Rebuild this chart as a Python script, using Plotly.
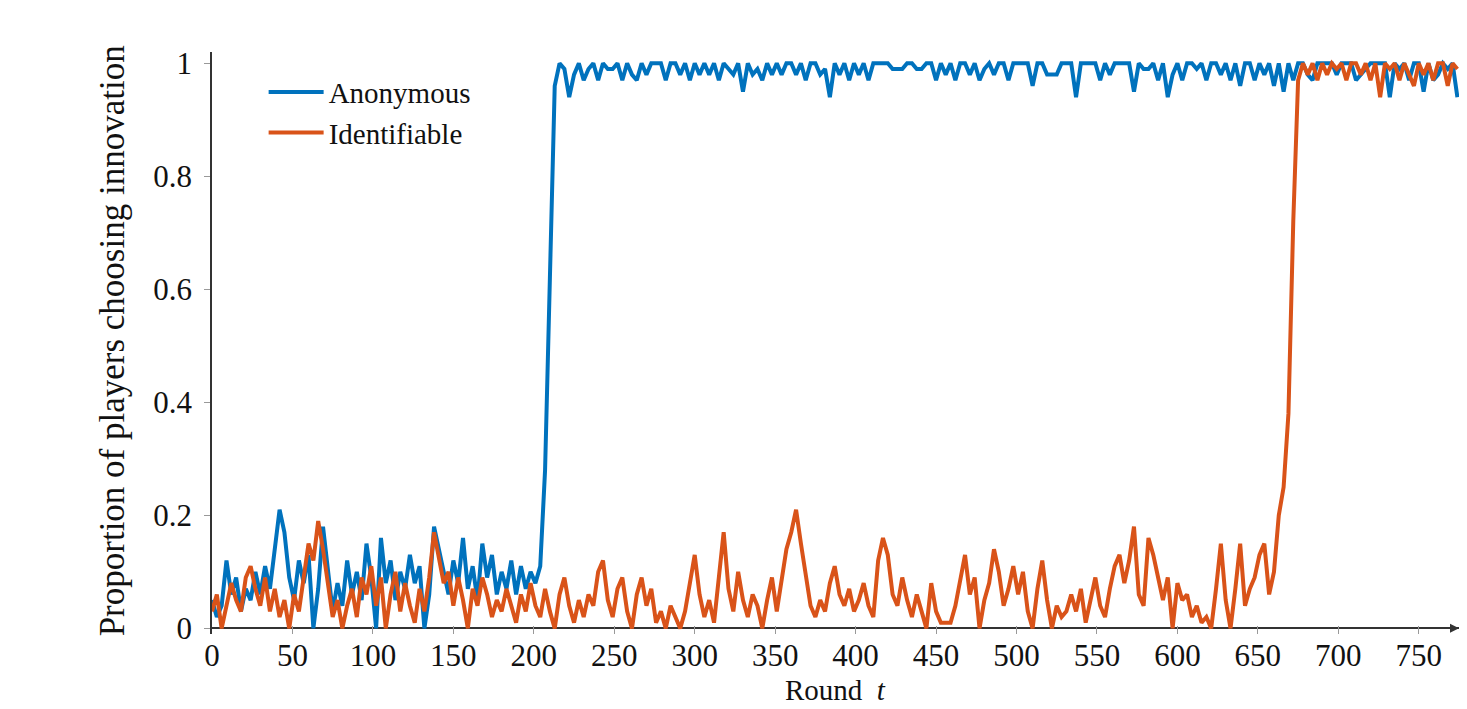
import plotly.graph_objects as go

rounds = list(range(0, 775, 3))

anonymous = [
    # 0-27
    0.05, 0.02, 0.04, 0.12, 0.06, 0.09, 0.03, 0.07, 0.05, 0.10,
    # 30-57
    0.06, 0.11, 0.07, 0.14, 0.21, 0.17, 0.09, 0.05, 0.12, 0.08,
    # 60-87
    0.13, 0.00, 0.07, 0.18, 0.10, 0.03, 0.08, 0.04, 0.12, 0.06,
    # 90-117
    0.10, 0.05, 0.15, 0.09, 0.00, 0.16, 0.08, 0.12, 0.05, 0.10,
    # 120-147
    0.07, 0.13, 0.08, 0.11, 0.00, 0.06, 0.18, 0.14, 0.10, 0.06,
    # 150-177
    0.12, 0.08, 0.16, 0.07, 0.11, 0.05, 0.15, 0.09, 0.13, 0.06,
    # 180-204
    0.10, 0.07, 0.12, 0.06, 0.11, 0.07, 0.10, 0.08, 0.11,
    # 207-213 take-off
    0.28, 0.62, 0.96,
    # 216-243
    1.00, 0.99, 0.94, 0.98, 1.00, 0.97, 0.99, 1.00, 0.97, 1.00,
    # 246-273
    0.99, 0.99, 1.00, 0.97, 1.00, 0.98, 0.97, 1.00, 0.98, 1.00,
    # 276-303
    1.00, 1.00, 0.97, 1.00, 1.00, 0.98, 1.00, 0.97, 1.00, 0.98,
    # 306-333
    1.00, 0.98, 1.00, 0.97, 1.00, 0.99, 0.98, 1.00, 0.95, 1.00,
    # 336-363
    0.98, 0.99, 0.97, 1.00, 0.98, 1.00, 0.98, 1.00, 1.00, 0.98,
    # 366-393
    1.00, 0.97, 1.00, 1.00, 0.98, 0.99, 0.94, 1.00, 0.98, 1.00,
    # 396-423
    0.97, 1.00, 0.98, 1.00, 0.97, 1.00, 1.00, 1.00, 1.00, 0.99,
    # 426-453
    0.99, 0.99, 1.00, 1.00, 0.99, 0.99, 1.00, 1.00, 0.97, 1.00,
    # 456-483
    0.98, 1.00, 0.97, 1.00, 1.00, 0.98, 1.00, 0.97, 0.99, 1.00,
    # 486-513
    0.98, 1.00, 1.00, 0.97, 1.00, 1.00, 1.00, 1.00, 0.96, 1.00,
    # 516-543
    1.00, 0.98, 0.98, 0.98, 1.00, 1.00, 1.00, 0.94, 1.00, 1.00,
    # 546-573
    1.00, 1.00, 0.97, 1.00, 0.98, 1.00, 1.00, 1.00, 1.00, 0.95,
    # 576-603
    1.00, 0.99, 0.99, 1.00, 0.97, 1.00, 0.94, 0.98, 1.00, 0.97,
    # 606-633
    1.00, 1.00, 0.99, 1.00, 0.97, 1.00, 1.00, 0.98, 1.00, 0.97,
    # 636-663
    1.00, 0.96, 1.00, 1.00, 0.97, 1.00, 0.98, 1.00, 0.96, 1.00,
    # 666-693
    0.95, 1.00, 0.97, 1.00, 1.00, 0.98, 0.97, 1.00, 1.00, 1.00,
    # 696-723
    1.00, 0.98, 1.00, 1.00, 1.00, 0.97, 0.98, 0.99, 1.00, 1.00,
    # 726-753
    1.00, 1.00, 0.94, 1.00, 0.99, 1.00, 0.97, 1.00, 1.00, 0.95,
    # 756-774
    1.00, 0.97, 0.98, 1.00, 0.99, 1.00, 0.94,
]

identifiable = [
    # 0-27
    0.03, 0.06, 0.00, 0.04, 0.08, 0.05, 0.03, 0.09, 0.11, 0.07,
    # 30-57
    0.04, 0.09, 0.03, 0.07, 0.02, 0.05, 0.00, 0.06, 0.03, 0.09,
    # 60-87
    0.15, 0.12, 0.19, 0.14, 0.08, 0.02, 0.05, 0.00, 0.04, 0.07,
    # 90-117
    0.02, 0.09, 0.06, 0.11, 0.04, 0.09, 0.00, 0.06, 0.10, 0.03,
    # 120-147
    0.08, 0.04, 0.01, 0.07, 0.03, 0.09, 0.17, 0.12, 0.08, 0.10,
    # 150-177
    0.04, 0.09, 0.05, 0.00, 0.07, 0.04, 0.09, 0.06, 0.02, 0.05,
    # 180-204
    0.03, 0.07, 0.04, 0.01, 0.06, 0.03, 0.08, 0.04, 0.02,
    # 207-234
    0.07, 0.03, 0.00, 0.06, 0.09, 0.04, 0.01, 0.05, 0.02, 0.06,
    # 237-264
    0.04, 0.10, 0.12, 0.05, 0.02, 0.07, 0.09, 0.03, 0.00, 0.06,
    # 267-294
    0.09, 0.04, 0.07, 0.01, 0.03, 0.00, 0.04, 0.02, 0.00, 0.03,
    # 297-324
    0.08, 0.13, 0.06, 0.02, 0.05, 0.01, 0.09, 0.17, 0.07, 0.03,
    # 327-354
    0.10, 0.05, 0.02, 0.06, 0.04, 0.00, 0.05, 0.09, 0.03, 0.08,
    # 357-384
    0.14, 0.17, 0.21, 0.15, 0.09, 0.04, 0.02, 0.05, 0.03, 0.08,
    # 387-414
    0.11, 0.06, 0.04, 0.07, 0.03, 0.05, 0.08, 0.04, 0.02, 0.12,
    # 417-444
    0.16, 0.13, 0.06, 0.04, 0.09, 0.05, 0.02, 0.06, 0.03, 0.00,
    # 447-474
    0.08, 0.03, 0.01, 0.01, 0.01, 0.04, 0.09, 0.13, 0.06, 0.09,
    # 477-504
    0.00, 0.05, 0.08, 0.14, 0.10, 0.04, 0.07, 0.11, 0.06, 0.10,
    # 507-534
    0.03, 0.00, 0.07, 0.12, 0.05, 0.00, 0.04, 0.02, 0.03, 0.06,
    # 537-564
    0.03, 0.07, 0.01, 0.05, 0.09, 0.04, 0.02, 0.07, 0.11, 0.13,
    # 567-594
    0.08, 0.12, 0.18, 0.06, 0.04, 0.16, 0.13, 0.09, 0.05, 0.09,
    # 597-624
    0.00, 0.08, 0.05, 0.06, 0.02, 0.04, 0.01, 0.02, 0.00, 0.07,
    # 627-654
    0.15, 0.05, 0.00, 0.07, 0.15, 0.04, 0.07, 0.09, 0.13, 0.15,
    # 657-663
    0.06, 0.10, 0.20,
    # 666-678 take-off
    0.25, 0.38, 0.72, 0.97, 1.00,
    # 681-708
    0.98, 1.00, 0.97, 1.00, 0.98, 1.00, 0.99, 1.00, 0.97, 1.00,
    # 711-738
    1.00, 0.98, 1.00, 0.97, 1.00, 0.94, 1.00, 0.99, 1.00, 0.97,
    # 741-768
    1.00, 0.98, 0.96, 1.00, 0.98, 1.00, 0.97, 1.00, 1.00, 0.96,
    # 771-774
    1.00, 0.99,
]

x_ticks = list(range(0, 751, 50))
y_ticks = [0, 0.2, 0.4, 0.6, 0.8, 1]
y_tick_text = ["0", "0.2", "0.4", "0.6", "0.8", "1"]

BLUE = "#0072BD"
ORANGE = "#D95319"
FONT = "Liberation Serif"

fig = go.Figure()
fig.add_trace(go.Scatter(x=rounds[:len(anonymous)], y=anonymous, mode="lines",
                         name="Anonymous", line=dict(color=BLUE, width=4)))
fig.add_trace(go.Scatter(x=rounds[:len(identifiable)], y=identifiable, mode="lines",
                         name="Identifiable", line=dict(color=ORANGE, width=4)))

fig.update_layout(
    width=1467, height=709,
    margin=dict(l=204, r=16, t=44, b=83),
    paper_bgcolor="white", plot_bgcolor="white",
    font=dict(family=FONT, size=30, color="#111"),
    showlegend=True,
    legend=dict(x=0.0414, y=0.975, xanchor="left", yanchor="top",
                bgcolor="rgba(255,255,255,0)", font=dict(size=29, family=FONT),
                itemwidth=55, tracegroupgap=0),
    xaxis=dict(range=[0, 775], tickvals=x_ticks, ticks="inside", ticklen=8,
               tickcolor="#999", showgrid=False, zeroline=False, showline=False,
               automargin=False, tickfont=dict(size=31, family=FONT)),
    yaxis=dict(range=[-0.01, 1.02], tickvals=y_ticks, ticktext=y_tick_text,
               ticks="outside", ticklen=6, tickcolor="#999", showgrid=False,
               zeroline=True, zerolinecolor="#333", zerolinewidth=1.5,
               showline=True, linecolor="#333", linewidth=1.5,
               automargin=False, ticklabelstandoff=6,
               tickfont=dict(size=31, family=FONT)),
)

fig.add_annotation(x=775, y=0, ax=765, ay=0, xref="x", yref="y", axref="x", ayref="y",
                   showarrow=True, arrowhead=2, arrowsize=1.2, arrowwidth=1.5,
                   arrowcolor="#333", text="")

# Axis titles
fig.add_annotation(text="Proportion of players choosing innovation", textangle=-90,
                   xref="paper", yref="paper", x=-0.0802, y=0.5045,
                   xanchor="center", yanchor="middle", showarrow=False,
                   font=dict(size=35, family=FONT, color="#111"))
fig.add_annotation(text="Round  <i>t</i>", xref="paper", yref="paper",
                   x=0.5, y=-0.0968, xanchor="center", yanchor="middle",
                   showarrow=False, font=dict(size=29, family=FONT, color="#111"))

fig.write_html("out.html")
